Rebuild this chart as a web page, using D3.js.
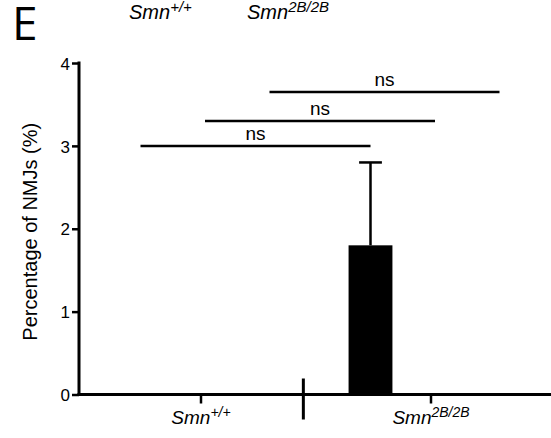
<!DOCTYPE html>
<html>
<head>
<meta charset="utf-8">
<script src="https://cdn.jsdelivr.net/npm/d3@7"></script>
<style>
  html, body { margin: 0; padding: 0; background: #fff; }
  svg { display: block; }
  text { font-family: "Liberation Sans", Arial, sans-serif; fill: #000; }
</style>
</head>
<body>
<svg id="chart" width="551" height="438"></svg>
<script>
// Genotype groups (base name + superscript)
const groups = ["Smn+/+", "Smn2B/2B"];
const groupBase = ["Smn", "Smn"];
const groupSup = ["+/+", "2B/2B"];

// Three measures per genotype
const series = ["s1", "s2", "s3"];
const valuesWT = [0, 0, 0];
const valuesMut = [1.8, 0, 0];
const errorsWT = [0, 0, 0];
const errorsMut = [1.0, 0, 0];

// Y axis
const yTicks = [0, 1, 2, 3, 4];
const yLabel = "Percentage of NMJs (%)";

// Pairwise comparisons: same measure across genotypes
const comparisons = [
  { series: "s1", level: 3.0, label: "ns" },
  { series: "s2", level: 3.3, label: "ns" },
  { series: "s3", level: 3.65, label: "ns" }
];

const svg = d3.select("#chart");
const W = 551, H = 438;

const y = d3.scaleLinear().domain([0, 4]).range([394.5, 63]);
const x0 = d3.scaleBand().domain(groups).range([86, 546]).padding(0);
const x1 = d3.scaleBand().domain(series).range([22.25, x0.bandwidth() - 14.25]).padding(0);
const barW = x1.bandwidth() * 0.68;

const rows = groups.map((g, i) => ({
  group: g,
  values: i === 0 ? valuesWT : valuesMut,
  errors: i === 0 ? errorsWT : errorsMut
}));

const barCenter = (g, s) => x0(g) + x1(s) + x1.bandwidth() / 2;

// Panel letter
svg.append("text")
  .attr("x", 12).attr("y", 40)
  .style("font-family", "'Open Sans', 'DejaVu Sans', sans-serif")
  .style("font-size", "46px")
  .text("E");

// Genotype labels: italic base with raised superscript
function genotypeLabel(sel, base, sup, size, supSize) {
  sel.append("tspan").style("font-style", "italic").style("font-size", size + "px").text(base);
  sel.append("tspan").style("font-style", "italic").style("font-size", supSize + "px")
    .attr("dy", -size * 0.36).text(sup);
}
const headerX = [129, 247];
groups.forEach((g, i) => {
  const t = svg.append("text").attr("x", headerX[i]).attr("y", 19);
  genotypeLabel(t, groupBase[i], groupSup[i], 20, 15);
});

// Bars
const gBars = svg.append("g");
rows.forEach(r => {
  series.forEach((s, j) => {
    const v = r.values[j];
    if (v > 0) {
      gBars.append("rect")
        .attr("x", barCenter(r.group, s) - barW / 2)
        .attr("y", y(v))
        .attr("width", barW)
        .attr("height", y(0) - y(v))
        .attr("fill", "#000");
    }
    const e = r.errors[j];
    if (e > 0) {
      const cx = barCenter(r.group, s);
      gBars.append("line")
        .attr("x1", cx).attr("x2", cx)
        .attr("y1", y(v)).attr("y2", y(v + e))
        .attr("stroke", "#000").attr("stroke-width", 2.5);
      gBars.append("line")
        .attr("x1", cx - barW * 0.26).attr("x2", cx + barW * 0.26)
        .attr("y1", y(v + e)).attr("y2", y(v + e))
        .attr("stroke", "#000").attr("stroke-width", 2.5);
    }
  });
});

// Y axis
const yAxis = svg.append("g").attr("transform", "translate(79,0)")
  .call(d3.axisLeft(y).tickValues(yTicks).tickFormat(d3.format("d")).tickSize(7).tickPadding(2));
yAxis.select(".domain").attr("stroke-width", 3).attr("d", `M0,${y(4) - 1.5}V${y(0) + 1.5}`);
yAxis.selectAll(".tick line").attr("stroke-width", 2.5);
yAxis.selectAll(".tick text").style("font-size", "17px").attr("dy", "0.36em");

svg.append("text")
  .attr("transform", `translate(37,${(y(0) + y(4)) / 2 + 3}) rotate(-90)`)
  .attr("text-anchor", "middle")
  .style("font-size", "20px")
  .text(yLabel);

// X axis
svg.append("line")
  .attr("x1", 77.5).attr("x2", W).attr("y1", y(0)).attr("y2", y(0))
  .attr("stroke", "#000").attr("stroke-width", 3);
groups.forEach((g, i) => {
  const cx = x0(g) + x0.bandwidth() / 2;
  svg.append("line")
    .attr("x1", cx).attr("x2", cx).attr("y1", y(0)).attr("y2", y(0) + 9)
    .attr("stroke", "#000").attr("stroke-width", 2.5);
  const t = svg.append("text").attr("x", cx).attr("y", 424).attr("text-anchor", "middle");
  genotypeLabel(t, groupBase[i], groupSup[i], 19, 14);
});

// Group separator mark on the axis
const sepX = x0(groups[1]) - x0.step() * 0.055;
svg.append("line")
  .attr("x1", sepX).attr("x2", sepX).attr("y1", y(0) - 16).attr("y2", y(0) + 25)
  .attr("stroke", "#000").attr("stroke-width", 3);

// Significance brackets
const gSig = svg.append("g");
comparisons.forEach(c => {
  const xa = barCenter(groups[0], c.series);
  const xb = barCenter(groups[1], c.series);
  gSig.append("line")
    .attr("x1", xa).attr("x2", xb).attr("y1", y(c.level)).attr("y2", y(c.level))
    .attr("stroke", "#000").attr("stroke-width", 2.5);
  gSig.append("text")
    .attr("x", (xa + xb) / 2).attr("y", y(c.level) - 6)
    .attr("text-anchor", "middle")
    .style("font-size", "19px")
    .text(c.label);
});
</script>
</body>
</html>
